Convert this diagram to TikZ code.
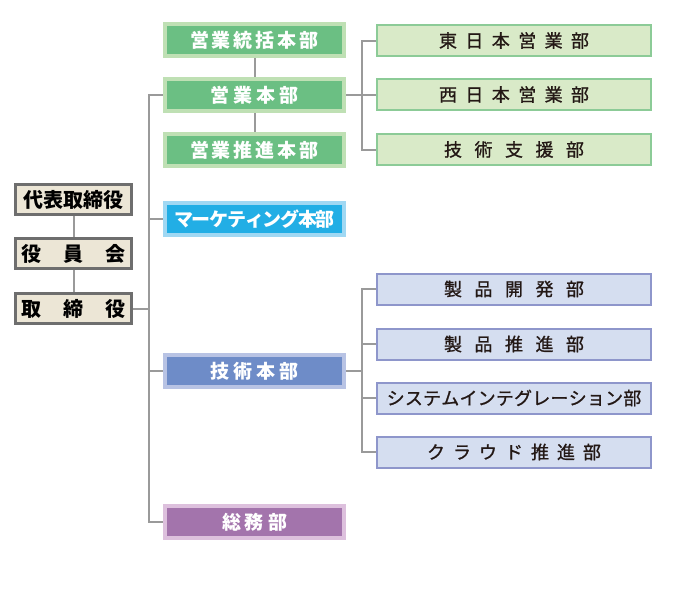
\documentclass[tikz,border=0pt]{standalone}
\usepackage{fontspec}
\newfontfamily\jp{Noto Sans CJK JP}
\newfontfamily\jpr[FakeBold=1]{Noto Sans CJK JP}
\usetikzlibrary{backgrounds}
\makeatletter
\newcommand\spreadtext[2]{\def\sp@first{1}\@tfor\sp@c:=#2\do{\ifx\sp@first\@empty\hspace*{#1}\fi\sp@c\let\sp@first\@empty}}
\makeatother
\definecolor{lbord}{HTML}{6E6E6E}
\definecolor{lfill}{HTML}{ECE6D6}
\definecolor{gmfill}{HTML}{6BBF83}
\definecolor{gmbord}{HTML}{BFE0B4}
\definecolor{grfill}{HTML}{D9EAC8}
\definecolor{grbord}{HTML}{8CCB97}
\definecolor{mkfill}{HTML}{22AEE5}
\definecolor{mkbord}{HTML}{A0D8F3}
\definecolor{tmfill}{HTML}{6E8CC8}
\definecolor{tmbord}{HTML}{B8C3E4}
\definecolor{trfill}{HTML}{D5DEF0}
\definecolor{trbord}{HTML}{8E96CB}
\definecolor{smfill}{HTML}{A374AC}
\definecolor{smbord}{HTML}{DDC0DD}
\definecolor{lineg}{HTML}{9A9A9A}
\definecolor{rtext}{HTML}{231815}
\tikzset{
  lbox/.style={draw=lbord, line width=3pt, fill=lfill, minimum width=116pt, minimum height=30pt, inner sep=0pt, font=\jp\bfseries\fontsize{20}{20}\selectfont, text=black},
  mbox/.style={line width=4pt, minimum width=179pt, minimum height=32pt, inner sep=0pt, text=white, font=\jp\bfseries\fontsize{19}{19}\selectfont},
  rbox/.style={line width=2pt, minimum width=274pt, minimum height=31pt, inner sep=0pt, font=\jpr\fontsize{18}{18}\selectfont, text=rtext},
  gm/.style={mbox, draw=gmbord, fill=gmfill},
  gr/.style={rbox, draw=grbord, fill=grfill},
  tr/.style={rbox, draw=trbord, fill=trfill},
  conn/.style={draw=lineg, line width=2pt}
}
\begin{document}
\begin{tikzpicture}[x=1pt,y=-1pt]
\useasboundingbox (0,0) rectangle (677,603);
% left column
\node[lbox] (daihyo) at (73.5,199.5) {\spreadtext{0pt}{代表取締役}};
\node[lbox] (yakuin) at (73.5,253.5) {\spreadtext{22pt}{役員会}};
\node[lbox] (torishimari) at (73.5,308.5) {\spreadtext{22pt}{取締役}};
% middle column
\node[gm] (toukatsu) at (254.5,40) {\spreadtext{3pt}{営業統括本部}};
\node[gm] (eigyo) at (254.5,95) {\spreadtext{4pt}{営業本部}};
\node[gm] (suishin) at (254.5,150) {\spreadtext{3pt}{営業推進本部}};
\node[mbox, draw=mkbord, fill=mkfill] (mkt) at (254.5,219) {\spreadtext{-1.3pt}{マーケティング本部}};
\node[mbox, draw=tmbord, fill=tmfill] (gijutsu) at (254.5,371) {\spreadtext{4pt}{技術本部}};
\node[mbox, draw=smbord, fill=smfill] (soumu) at (254.5,522) {\spreadtext{4pt}{総務部}};
% right column, sales
\node[gr] (higashi) at (514,40.5) {\spreadtext{8.4pt}{東日本営業部}};
\node[gr] (nishi) at (514,94.5) {\spreadtext{8.4pt}{西日本営業部}};
\node[gr] (shien) at (514,149.5) {\spreadtext{12.5pt}{技術支援部}};
% right column, tech
\node[tr] (kaihatsu) at (514,289) {\spreadtext{12.5pt}{製品開発部}};
\node[tr] (seihin) at (514,344) {\spreadtext{12.5pt}{製品推進部}};
\node[tr] (si) at (514,398) {\spreadtext{0.2pt}{システムインテグレーション部}};
\node[tr] (cloud) at (514,452) {\spreadtext{8pt}{クラウド推進部}};
% trunk coordinates
\coordinate (trunk) at (149,0);
\coordinate (sbus) at (362,0);
\begin{scope}[on background layer]
\fill[white] (0,0) rectangle (677,603);
\draw[conn] (daihyo) -- (yakuin);
\draw[conn] (yakuin) -- (torishimari);
\draw[conn] (torishimari.east) -- (torishimari.east -| trunk);
\draw[conn] (eigyo.west) -| (trunk |- soumu.west) -- (soumu.west);
\draw[conn] (mkt.west) -- (mkt.west -| trunk);
\draw[conn] (gijutsu.west) -- (gijutsu.west -| trunk);
\draw[conn] (toukatsu) -- (eigyo);
\draw[conn] (eigyo) -- (suishin);
\draw[conn] (eigyo.east) -- (eigyo.east -| sbus);
\draw[conn] (higashi.west) -| (sbus |- shien.west) -- (shien.west);
\draw[conn] (nishi.west) -- (nishi.west -| sbus);
\draw[conn] (gijutsu.east) -- (gijutsu.east -| sbus);
\draw[conn] (kaihatsu.west) -| (sbus |- cloud.west) -- (cloud.west);
\draw[conn] (seihin.west) -- (seihin.west -| sbus);
\draw[conn] (si.west) -- (si.west -| sbus);
\end{scope}
\end{tikzpicture}
\end{document}
